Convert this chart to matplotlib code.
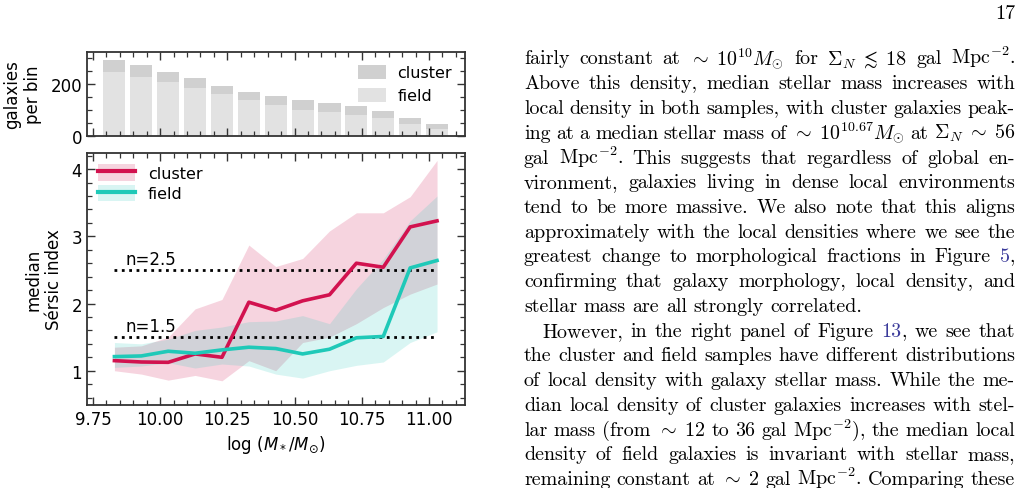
import numpy as np
import matplotlib
matplotlib.use("Agg")
import matplotlib.pyplot as plt
from matplotlib.patches import Patch
from matplotlib.lines import Line2D

# -----------------------------
# Data
# -----------------------------
MASS_BINS = [9.83, 9.93, 10.03, 10.13, 10.23, 10.33, 10.43, 10.53, 10.63, 10.73, 10.83, 10.93, 11.03]

# galaxies per bin (stacked: field at the bottom, cluster on top)
N_FIELD = [246, 230, 208, 187, 162, 139, 120, 102, 94, 81, 70, 48, 28]
N_CLUSTER = [48, 45, 40, 37, 31, 31, 35, 37, 34, 35, 27, 22, 18]

# median Sersic index and spread
CLUSTER_MED = [1.15, 1.13, 1.125, 1.25, 1.20, 2.02, 1.90, 2.04, 2.13, 2.60, 2.54, 3.14, 3.23]
CLUSTER_LO = [1.00, 0.95, 0.86, 0.93, 0.85, 1.15, 1.00, 1.42, 1.50, 1.70, 1.94, 2.14, 2.29]
CLUSTER_HI = [1.35, 1.37, 1.50, 1.92, 2.06, 2.87, 2.55, 2.67, 3.08, 3.35, 3.35, 3.59, 4.13]

FIELD_MED = [1.21, 1.22, 1.29, 1.26, 1.31, 1.35, 1.33, 1.25, 1.32, 1.49, 1.51, 2.53, 2.64]
FIELD_LO = [1.05, 1.07, 1.12, 1.04, 1.10, 1.07, 0.95, 0.89, 1.00, 1.08, 1.13, 1.42, 1.58]
FIELD_HI = [1.42, 1.40, 1.47, 1.60, 1.65, 1.73, 1.74, 1.82, 1.70, 2.22, 2.66, 3.23, 3.60]

N_LINES = [2.5, 1.5]

# -----------------------------
# Style
# -----------------------------
RED = "#d2124f"
TEAL = "#1fc9b8"
BAR_CLUSTER = "#d0d0d0"
BAR_FIELD = "#e2e2e2"
SPINE = "#333333"
LINK = "#3a3a9a"

W, H = 1023, 489
fig = plt.figure(figsize=(W / 100, H / 100), dpi=100)


def style_axes(ax):
    ax.tick_params(which="both", direction="in", top=True, right=True,
                   labelsize=12, colors=SPINE, labelcolor="black")
    ax.tick_params(which="major", length=6, width=1.0)
    ax.tick_params(which="minor", length=3.5, width=0.9)
    for sp in ax.spines.values():
        sp.set_color(SPINE)
        sp.set_linewidth(1.3)


# (top) galaxies per bin
ax_top = fig.add_axes([87 / W, 1 - 137 / H, 378 / W, 84 / H])
ax_top.bar(MASS_BINS, N_FIELD, width=0.082, color=BAR_FIELD, label="field")
ax_top.bar(MASS_BINS, N_CLUSTER, width=0.082, bottom=N_FIELD, color=BAR_CLUSTER, label="cluster")
ax_top.set_xlim(9.728, 11.134)
ax_top.set_ylim(0, 325)
ax_top.set_yticks([0, 200])
ax_top.set_yticks(np.arange(0, 325, 50), minor=True)
ax_top.set_xticks(np.arange(9.75, 11.13, 0.25))
ax_top.set_xticks(np.arange(9.75, 11.13, 0.05), minor=True)
ax_top.tick_params(labelbottom=False)
ax_top.set_ylabel("galaxies\nper bin", fontsize=12, labelpad=6)
style_axes(ax_top)
h, l = ax_top.get_legend_handles_labels()
ax_top.legend(h[::-1], l[::-1], loc="upper right", frameon=False, fontsize=11.5,
              handlelength=1.8, handleheight=1.0, handletextpad=0.7,
              borderaxespad=0.4, labelspacing=0.45)

# (bottom) median Sersic index
ax = fig.add_axes([87 / W, 1 - 406 / H, 378 / W, 252 / H])
ax.fill_between(MASS_BINS, CLUSTER_LO, CLUSTER_HI, color=RED, alpha=0.18, lw=0)
ax.fill_between(MASS_BINS, FIELD_LO, FIELD_HI, color=TEAL, alpha=0.17, lw=0)
ax.plot(MASS_BINS, CLUSTER_MED, color=RED, lw=2.6, zorder=4)
ax.plot(MASS_BINS, FIELD_MED, color=TEAL, lw=2.6, zorder=4)
for n in N_LINES:
    ax.hlines(n, MASS_BINS[0], MASS_BINS[-1], colors="black", linestyles=":", lw=2.0, zorder=3)
    ax.text(MASS_BINS[0] + 0.04, n + 0.03, f"n={n}", fontsize=12, ha="left", va="bottom")

ax.set_xlim(9.728, 11.134)
ax.set_ylim(0.49, 4.24)
ax.set_yticks([1, 2, 3, 4])
ax.set_yticks(np.arange(0.6, 4.21, 0.2), minor=True)
ax.set_xticks(np.arange(9.75, 11.13, 0.25))
ax.set_xticks(np.arange(9.75, 11.13, 0.05), minor=True)
ax.xaxis.set_major_formatter(matplotlib.ticker.FormatStrFormatter("%.2f"))
ax.set_xlabel(r"log $(M_*/M_{\odot})$", fontsize=12, labelpad=4)
ax.set_ylabel("median\nSérsic index", fontsize=12, labelpad=6)
style_axes(ax)

leg_handles = [
    (Patch(color=RED, alpha=0.18, lw=0), Line2D([], [], color=RED, lw=3)),
    (Patch(color=TEAL, alpha=0.17, lw=0), Line2D([], [], color=TEAL, lw=3)),
]
ax.legend(leg_handles, ["cluster", "field"], loc="upper left", frameon=False, fontsize=11.5,
          handlelength=2.3, handleheight=1.2, borderaxespad=0.3, labelspacing=0.25)

# -----------------------------
# Page text (right column)
# -----------------------------
TEXT_LINES = [
    (r"fairly constant at $\sim\;10^{10}M_{\odot}$ for $\Sigma_N\;\lesssim\;18$ gal Mpc$^{-2}$.", True, 0),
    ("Above this density, median stellar mass increases with", True, 0),
    ("local density in both samples, with cluster galaxies peak-", True, 0),
    (r"ing at a median stellar mass of $\sim\;10^{10.67}M_{\odot}$ at $\Sigma_N\;\sim\;56$", True, 0),
    (r"gal Mpc$^{-2}$. This suggests that regardless of global en-", True, 0),
    ("vironment, galaxies living in dense local environments", True, 0),
    ("tend to be more massive. We also note that this aligns", True, 0),
    ("approximately with the local densities where we see the", True, 0),
    ("greatest change to morphological fractions in Figure @5@,", True, 0),
    ("confirming that galaxy morphology, local density, and", True, 0),
    ("stellar mass are all strongly correlated.", False, 0),
    ("However, in the right panel of Figure @13@, we see that", True, 18),
    ("the cluster and field samples have different distributions", True, 0),
    ("of local density with galaxy stellar mass. While the me-", True, 0),
    ("dian local density of cluster galaxies increases with stel-", True, 0),
    (r"lar mass (from $\sim\;12$ to 36 gal Mpc$^{-2}$), the median local", True, 0),
    ("density of field galaxies is invariant with stellar mass,", True, 0),
    (r"remaining constant at $\sim\;2$ gal Mpc$^{-2}$. Comparing these", True, 0),
]
X_LEFT, X_RIGHT = 524, 1015
Y_FIRST, DY = 64.5, 24.75
TXT = dict(fontfamily="cmr10", fontsize=14.4, math_fontfamily="cm", va="baseline", ha="left")

renderer = fig.canvas.get_renderer()
space = 0.333 * TXT["fontsize"] * 100 / 72

for k, (line, justify, indent) in enumerate(TEXT_LINES):
    y = 1 - (Y_FIRST + k * DY) / H
    words = []
    for tok in line.split(" "):
        parts = []
        for j, s in enumerate(tok.split("@")):
            if s:
                t = fig.text(0, y, s, color=LINK if j % 2 else "black", **TXT)
                parts.append((t, t.get_window_extent(renderer).width))
        words.append(parts)
    widths = [sum(w for _, w in p) for p in words]
    x0 = X_LEFT + indent
    gap = space
    if justify and len(words) > 1:
        gap = (X_RIGHT - x0 - sum(widths)) / (len(words) - 1)
    x = x0
    for parts, wsum in zip(words, widths):
        xx = x
        for t, w in parts:
            t.set_x(xx / W)
            xx += w
        x += wsum + gap

fig.text(1015 / W, 1 - 19 / H, "17", fontfamily="cmr10", fontsize=14.4, ha="right", va="baseline")

fig.savefig("out.png", dpi=100)
